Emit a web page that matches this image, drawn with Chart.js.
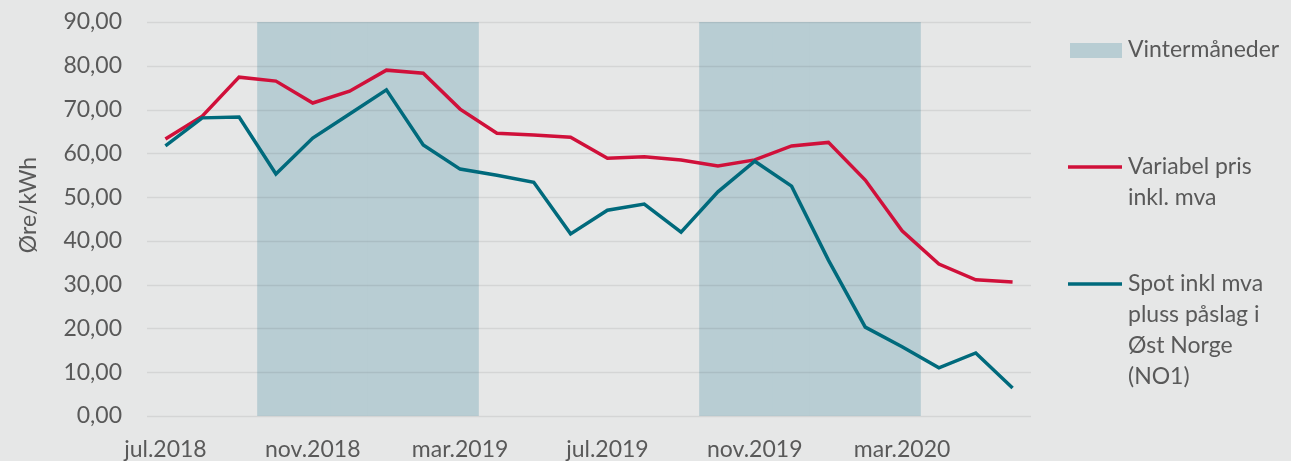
<!DOCTYPE html>
<html>
<head>
<meta charset="utf-8">
<script src="https://cdn.jsdelivr.net/npm/chart.js@4/dist/chart.umd.min.js"></script>
<style>
  html, body { margin: 0; padding: 0; background: #e6e7e7; }
  #wrap { width: 1291px; height: 461px; }
</style>
</head>
<body>
<div id="wrap"><canvas id="chart" width="1291" height="461"></canvas></div>
<script>
// Months, jul.2018 - jun.2020
const months = ['jul.2018','aug.2018','sep.2018','okt.2018','nov.2018','des.2018',
  'jan.2019','feb.2019','mar.2019','apr.2019','mai.2019','jun.2019',
  'jul.2019','aug.2019','sep.2019','okt.2019','nov.2019','des.2019',
  'jan.2020','feb.2020','mar.2020','apr.2020','mai.2020','jun.2020'];

const variabelPris = [63.3, 68.5, 77.4, 76.5, 71.5, 74.2, 79.0, 78.3, 70.1, 64.6, 64.2, 63.7,
  58.9, 59.2, 58.5, 57.1, 58.5, 61.7, 62.5, 53.9, 42.3, 34.7, 31.1, 30.6];

const spotPris = [61.7, 68.1, 68.3, 55.3, 63.5, 69.0, 74.5, 61.9, 56.4, 55.0, 53.4, 41.6,
  47.0, 48.4, 42.0, 51.2, 58.2, 52.5, 35.6, 20.3, 15.8, 11.0, 14.4, 6.4];

const vinter = [null, null, null, 90, 90, 90, 90, 90, 90, null, null, null,
  null, null, null, 90, 90, 90, 90, 90, 90, null, null, null];

const textColor = '#595959';
const fontFamily = 'Lato, "Open Sans", sans-serif';

// grid lines drawn right after the winter bars so they show on top of the shading
const gridOverBars = {
  id: 'gridOverBars',
  afterDatasetDraw(chart, args) {
    if (args.index !== 2) return;
    const ctx = chart.ctx, y = chart.scales.y, area = chart.chartArea;
    ctx.save();
    ctx.strokeStyle = 'rgba(0,0,0,0.075)';
    ctx.lineWidth = 1.5;
    y.ticks.forEach(t => {
      const py = Math.round(y.getPixelForValue(t.value)) + 0.5;
      ctx.beginPath(); ctx.moveTo(area.left, py); ctx.lineTo(area.right, py); ctx.stroke();
    });
    ctx.restore();
  }
};

// Custom legend and axis title
const rightLegend = {
  id: 'rightLegend',
  afterDraw(chart) {
    const ctx = chart.ctx;
    ctx.save();
    ctx.font = '23px ' + fontFamily;
    ctx.fillStyle = textColor;
    ctx.textBaseline = 'middle';
    ctx.textAlign = 'left';

    ctx.fillStyle = 'rgb(184,205,211)';
    ctx.fillRect(1070, 43, 52, 15);
    ctx.fillStyle = textColor;
    ctx.fillText('Vintermåneder', 1128, 50);

    ctx.lineWidth = 3.5;
    ctx.strokeStyle = '#d0103a';
    ctx.beginPath(); ctx.moveTo(1068, 167); ctx.lineTo(1122, 167); ctx.stroke();
    ['Variabel pris', 'inkl. mva'].forEach((t, i) => ctx.fillText(t, 1128, 167 + i * 31));

    ctx.strokeStyle = '#006a7c';
    ctx.beginPath(); ctx.moveTo(1068, 284); ctx.lineTo(1122, 284); ctx.stroke();
    ['Spot inkl mva', 'pluss påslag i', 'Øst Norge', '(NO1)'].forEach((t, i) => ctx.fillText(t, 1128, 284 + i * 31));

    // y axis title
    ctx.translate(29, 205);
    ctx.rotate(-Math.PI / 2);
    ctx.textAlign = 'center';
    ctx.font = '23px ' + fontFamily;
    ctx.fillText('Øre/kWh', 0, 0);
    ctx.restore();
  }
};

const ctx = document.getElementById('chart').getContext('2d');
new Chart(ctx, {
  data: {
    labels: months,
    datasets: [
      {
        type: 'line',
        label: 'Spot inkl mva pluss påslag i Øst Norge (NO1)',
        data: spotPris,
        borderColor: '#006a7c',
        borderWidth: 3.5,
        pointRadius: 0,
        tension: 0,
        order: 1
      },
      {
        type: 'line',
        label: 'Variabel pris inkl. mva',
        data: variabelPris,
        borderColor: '#d0103a',
        borderWidth: 3.5,
        pointRadius: 0,
        tension: 0,
        order: 2
      },
      {
        type: 'bar',
        label: 'Vintermåneder',
        data: vinter,
        backgroundColor: 'rgb(184,205,211)',
        barPercentage: 1,
        categoryPercentage: 1,
        order: 3
      }
    ]
  },
  options: {
    responsive: false,
    animation: false,
    layout: { padding: { left: 0, right: 260, top: 0, bottom: 0 } },
    plugins: {
      legend: { display: false },
      tooltip: { enabled: false }
    },
    scales: {
      x: {
        offset: true,
        grid: { display: false, drawTicks: false },
        border: { display: false },
        ticks: {
          autoSkip: false,
          maxRotation: 0,
          padding: 20,
          color: textColor,
          font: { family: fontFamily, size: 23 },
          callback: function(v, i) { return i % 4 === 0 ? months[i] : ''; }
        },
        afterFit: s => { s.height = 45; }
      },
      y: {
        min: 0,
        max: 90,
        grid: { display: false, drawTicks: false },
        border: { display: false },
        ticks: {
          stepSize: 10,
          padding: 25,
          color: textColor,
          font: { family: fontFamily, size: 23 },
          callback: v => v.toFixed(2).replace('.', ',')
        },
        afterFit: s => { s.width = 147; s.paddingTop = 22; s.paddingBottom = 0; }
      }
    }
  },
  plugins: [gridOverBars, rightLegend]
});
</script>
</body>
</html>
